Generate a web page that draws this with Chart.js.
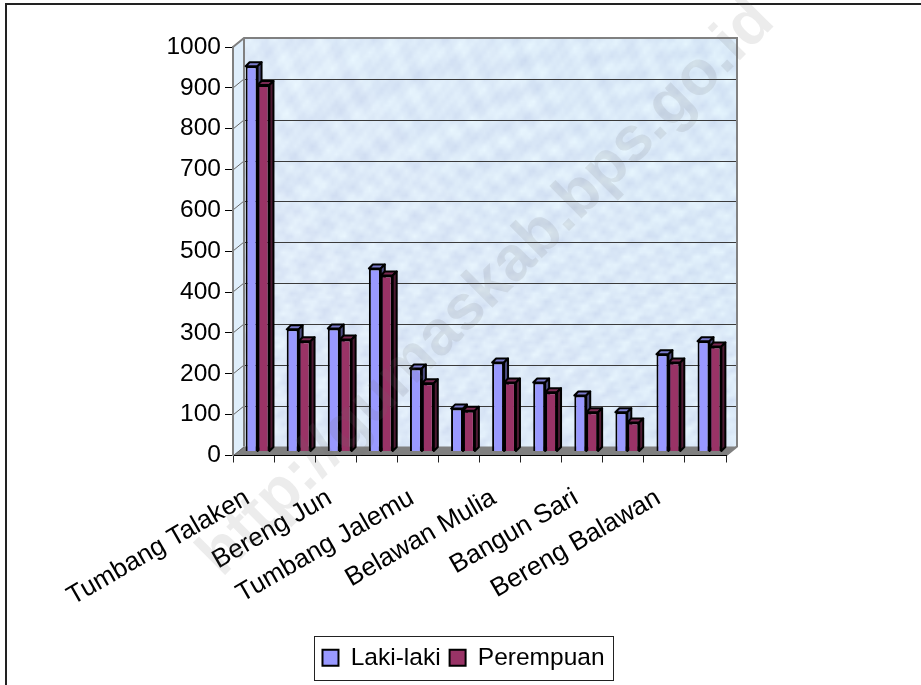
<!DOCTYPE html>
<html>
<head>
<meta charset="utf-8">
<title>Laki-laki dan Perempuan</title>
<script src="https://cdn.jsdelivr.net/npm/chart.js@4"></script>
<style>
  body { margin: 0; background: #fff; }
  canvas { display: block; }
</style>
</head>
<body>
<canvas id="chart" width="921" height="685"></canvas>
<script>
// Data ('' = category has no visible label)
const categories = ['Tumbang Talaken', '', 'Bereng Jun', '', 'Tumbang Jalemu', '', 'Belawan Mulia', '', 'Bangun Sari', '', 'Bereng Balawan', ''];
const lakiLaki = [943, 299, 301, 448, 203, 105, 218, 169, 137, 96, 238, 270];
const perempuan = [897, 270, 274, 431, 167, 100, 169, 145, 96, 71, 218, 257];
const watermark = 'http://gumaskab.bps.go.id';

const FONT = '"Liberation Sans", Arial, sans-serif';
const WALL = { dx: 11, dy: -9 };  // depth of the back wall
const BAR = { dx: 4, dy: -4 };    // depth of a bar, also its offset from the front plane
const sides = {
  blue: { top: '#7a7acc', side: '#4d4d80' },
  red: { top: '#7a2952', side: '#4d1a33' }
};

// Mottled wall texture, stretched from a small tile
function makeTexture() {
  const tile = document.createElement('canvas');
  tile.width = 120;
  tile.height = 100;
  const c = tile.getContext('2d');
  for (let y = 0; y < tile.height; y++) {
    for (let x = 0; x < tile.width; x++) {
      const n = Math.sin(x * 0.37 + y * 0.91) + Math.sin(x * 1.13 - y * 0.53)
        + Math.sin(x * 2.17 + y * 1.71) + Math.sin(x * y * 0.013) + Math.cos(x * 0.71 - y * y * 0.021);
      const v = Math.round(n * 3);
      const lean = Math.round(x / 40 - y / 50); // right side a touch bluer
      c.fillStyle = `rgb(${221 + v - lean},${234 + v},${248 + Math.round(v / 2)})`;
      c.fillRect(x, y, 1, 1);
    }
  }
  return tile;
}
const texture = makeTexture();

function poly(ctx, pts) {
  ctx.beginPath();
  pts.forEach((p, i) => i ? ctx.lineTo(p[0], p[1]) : ctx.moveTo(p[0], p[1]));
  ctx.closePath();
}

const frame3d = {
  id: 'frame3d',
  afterLayout(chart) {
    // legend box is not centred on the canvas; keep it wide so it does not wrap
    chart.legend.left = 164;
    chart.legend.right = 763;
  },
  beforeDraw(chart) {
    const { ctx, chartArea: a, scales: { y } } = chart;
    const bx = a.left + WALL.dx, tx = a.right + WALL.dx;
    const ty = a.top + WALL.dy, by = a.bottom + WALL.dy;

    ctx.save();
    ctx.fillStyle = '#fff';
    ctx.fillRect(0, 0, chart.width, chart.height);

    // page frame, top and left only
    ctx.strokeStyle = '#222';
    ctx.lineWidth = 2;
    ctx.beginPath();
    ctx.moveTo(921, 4);
    ctx.lineTo(6, 4);
    ctx.lineTo(6, 685);
    ctx.stroke();

    // back wall
    ctx.imageSmoothingEnabled = true;
    ctx.drawImage(texture, bx, ty, tx - bx, by - ty);

    // side wall
    poly(ctx, [[a.left, a.top], [bx, ty], [bx, by], [a.left, a.bottom]]);
    ctx.fillStyle = '#dfeefb';
    ctx.fill();

    // floor
    poly(ctx, [[a.left, a.bottom], [bx, by], [tx, by], [a.right, a.bottom]]);
    ctx.fillStyle = '#808080';
    ctx.fill();

    // gridlines on the wall and their slants on the side wall
    y.ticks.forEach(t => {
      const py = Math.round(y.getPixelForValue(t.value));
      if (t.value > 0 && t.value < 1000) {
        ctx.strokeStyle = '#3a3a3a';
        ctx.lineWidth = 1;
        ctx.beginPath();
        ctx.moveTo(bx, py + WALL.dy + 0.5);
        ctx.lineTo(tx, py + WALL.dy + 0.5);
        ctx.stroke();
      }
      ctx.strokeStyle = '#666';
      ctx.lineWidth = 1;
      ctx.beginPath();
      ctx.moveTo(a.left, py);
      ctx.lineTo(bx, py + WALL.dy);
      ctx.stroke();
    });

    // wall outline
    ctx.strokeStyle = '#808080';
    ctx.lineWidth = 2;
    ctx.beginPath();
    ctx.moveTo(a.left, a.top);
    ctx.lineTo(bx, ty);
    ctx.lineTo(tx, ty);
    ctx.lineTo(tx, by);
    ctx.lineTo(a.right, a.bottom);
    ctx.moveTo(bx, ty);
    ctx.lineTo(bx, by);
    ctx.stroke();
    ctx.restore();
  },
  beforeDatasetsDraw(chart) {
    const { ctx } = chart;
    // extrusions first, so the faces of the next bars cover them
    [0, 1].forEach(i => {
      const colors = i === 0 ? sides.blue : sides.red;
      chart.getDatasetMeta(i).data.forEach(bar => {
        const p = bar.getProps(['x', 'y', 'base', 'width'], true);
        const l = p.x - p.width / 2 + BAR.dx, r = p.x + p.width / 2 + BAR.dx;
        const t = p.y + BAR.dy, b = p.base + BAR.dy;
        ctx.save();
        ctx.strokeStyle = '#000';
        ctx.lineWidth = 2;
        ctx.lineJoin = 'round';
        poly(ctx, [[l, t], [l + BAR.dx, t + BAR.dy], [r + BAR.dx, t + BAR.dy], [r, t]]);
        ctx.fillStyle = colors.top;
        ctx.fill();
        ctx.stroke();
        poly(ctx, [[r, t], [r + BAR.dx, t + BAR.dy], [r + BAR.dx, b + BAR.dy], [r, b]]);
        ctx.fillStyle = colors.side;
        ctx.fill();
        ctx.stroke();
        ctx.restore();
      });
    });
    ctx.save();
    ctx.translate(BAR.dx, BAR.dy);
  },
  afterDatasetsDraw(chart) {
    chart.ctx.restore();
  },
  afterDraw(chart) {
    const { ctx } = chart;
    // legend frame
    ctx.save();
    ctx.strokeStyle = '#222';
    ctx.lineWidth = 1;
    ctx.strokeRect(314.5, 636.5, 299, 44);

    // watermark sits over everything
    ctx.translate(222, 578);
    ctx.rotate(-Math.PI / 4);
    ctx.font = 'bold 63px ' + FONT;
    ctx.fillStyle = 'rgba(110,110,110,0.13)';
    ctx.textBaseline = 'alphabetic';
    ctx.fillText(watermark, 0, 0);
    ctx.restore();
  }
};

new Chart(document.getElementById('chart'), {
  type: 'bar',
  plugins: [frame3d],
  data: {
    labels: categories,
    datasets: [
      { label: 'Laki-laki', data: lakiLaki, backgroundColor: '#9999ff', borderColor: '#000', borderWidth: 2, clip: false },
      { label: 'Perempuan', data: perempuan, backgroundColor: '#993366', borderColor: '#000', borderWidth: 2, clip: false }
    ]
  },
  options: {
    responsive: false,
    animation: false,
    layout: { padding: { left: 0, right: 195, top: 47, bottom: 5 } },
    categoryPercentage: 0.58,
    barPercentage: 1,
    scales: {
      x: {
        afterFit(scale) { scale.height = 181; },
        grid: { drawOnChartArea: false, tickLength: 7, tickColor: '#222' },
        border: { color: '#000', width: 1 },
        ticks: {
          autoSkip: false,
          minRotation: 30,
          maxRotation: 30,
          padding: 20,
          labelOffset: -6,
          color: '#000',
          font: { family: FONT, size: 26 }
        }
      },
      y: {
        min: 0,
        max: 1000,
        afterFit(scale) { scale.width = 233; },
        grid: { drawOnChartArea: false, tickLength: 8, tickColor: '#000' },
        border: { color: '#808080', width: 2 },
        ticks: {
          stepSize: 100,
          padding: 4,
          color: '#000',
          font: { family: FONT, size: 24.5 },
          callback: value => String(value)
        }
      }
    },
    plugins: {
      legend: {
        position: 'bottom',
        labels: {
          boxWidth: 16,
          boxHeight: 16,
          padding: 9,
          color: '#000',
          font: { family: FONT, size: 24.5 }
        }
      },
      title: { display: false }
    }
  }
});
</script>
</body>
</html>
